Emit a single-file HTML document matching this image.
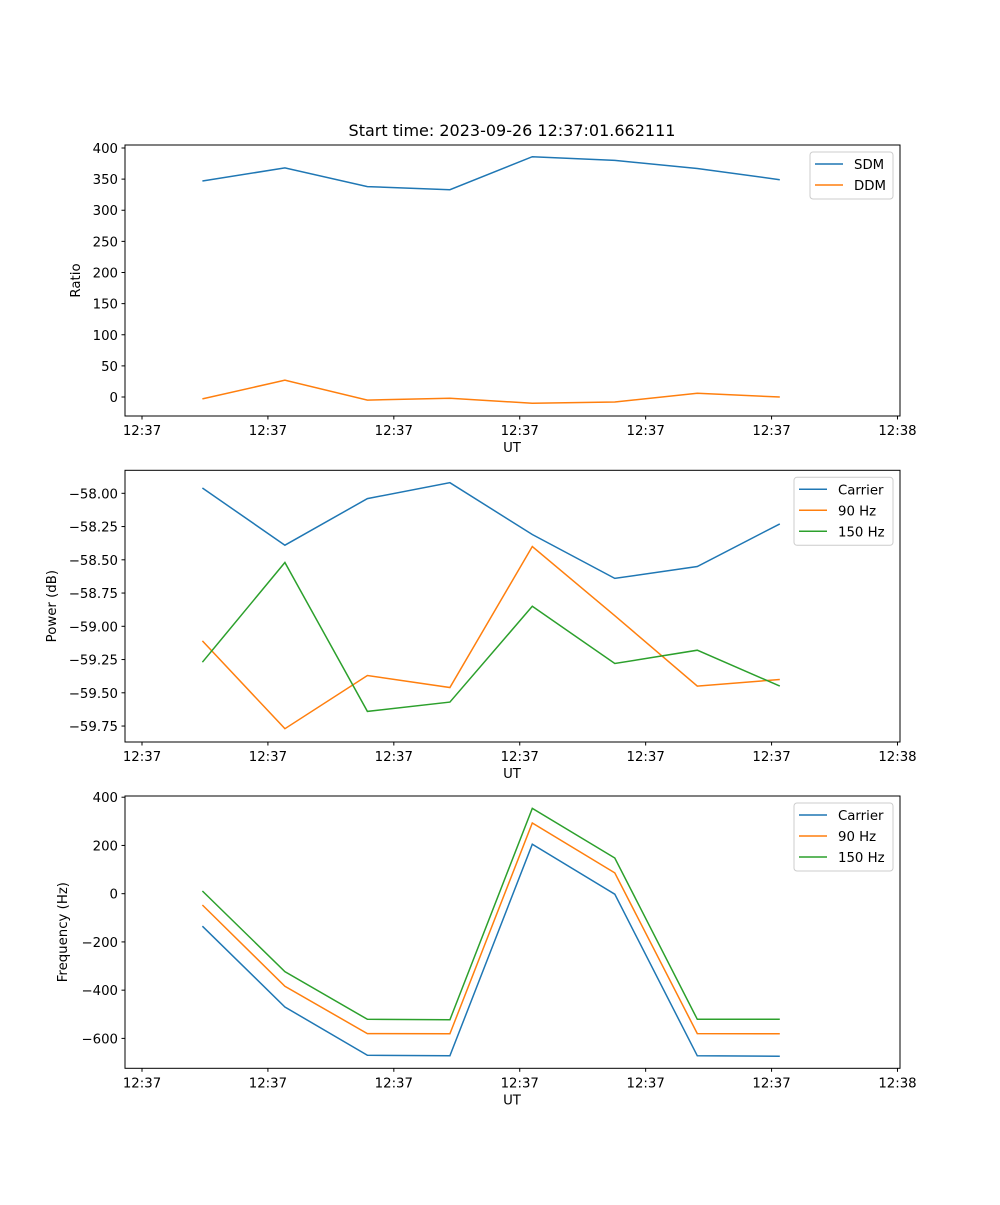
<!DOCTYPE html>
<html><head><meta charset="utf-8"><style>
body{margin:0;background:#fff}
svg text{font-family:"DejaVu Sans","Liberation Sans",sans-serif;font-size:13.3px;fill:#000}
</style></head><body>
<svg id="fig" width="1000" height="1200" xmlns="http://www.w3.org/2000/svg"></svg>
<script>
const times=[4.8,11.35,17.9,24.45,31.0,37.55,44.1,50.65];
const xTickVals=[0,10,20,30,40,50,60];
const xTickLabels=["12:37","12:37","12:37","12:37","12:37","12:37","12:38"];
const sdm=[347,368,338,333,386,380,367,349];
const ddm=[-3,27,-5,-2,-10,-8,6,0];
const ratioTicks=[0,50,100,150,200,250,300,350,400];
const pCarrier=[-57.96,-58.39,-58.04,-57.92,-58.31,-58.64,-58.55,-58.23];
const p90=[-59.11,-59.77,-59.37,-59.46,-58.40,-58.92,-59.45,-59.40];
const p150=[-59.27,-58.52,-59.64,-59.57,-58.85,-59.28,-59.18,-59.45];
const powerTicks=[-58.00,-58.25,-58.50,-58.75,-59.00,-59.25,-59.50,-59.75];
const fCarrier=[-135,-470,-670,-672,205,-2,-672,-674];
const f90=[-47,-384,-580,-581,293,86,-580,-581];
const f150=[11,-323,-521,-523,354,148,-521,-521];
const freqTicks=[-600,-400,-200,0,200,400];
const C=["#1f77b4","#ff7f0e","#2ca02c"];
const NS="http://www.w3.org/2000/svg";
const svg=document.getElementById('fig');
function el(tag,attrs,parent){const e=document.createElementNS(NS,tag);for(const k in attrs)e.setAttribute(k,attrs[k]);(parent||svg).appendChild(e);return e;}
const L=125,R=900,xmin=-1.35,xmax=60.2;
function xs(v){return L+(v-xmin)/(xmax-xmin)*(R-L);}
function panel(name,top,bot,ymin,ymax,yt,fmt,ylabel,series,names,leg){
  const g=el('g',{});
  
  
  const ys=v=>bot-(v-ymin)/(ymax-ymin)*(bot-top);
  series.forEach((s,i)=>{
    const p=el('polyline',{points:s.map((v,j)=>xs(times[j]).toFixed(1)+','+ys(v).toFixed(1)).join(' '),fill:'none',stroke:C[i],'stroke-width':1.5},g);
    
    
  });
  el('rect',{x:L,y:top,width:R-L,height:bot-top,fill:'none',stroke:'#000','stroke-width':1},g);
  xTickVals.forEach((v,i)=>{const x=xs(v);el('line',{x1:x,x2:x,y1:bot,y2:bot+3.5,stroke:'#000'},g);
    const t=el('text',{x:x,y:bot+19,'text-anchor':'middle'},g);t.textContent=xTickLabels[i];
    });
  yt.forEach(v=>{const y=ys(v);el('line',{x1:L-3.5,x2:L,y1:y,y2:y,stroke:'#000'},g);
    const t=el('text',{x:L-7,y:y+5,'text-anchor':'end'},g);t.textContent=fmt(v);
    });
  const xl=el('text',{x:512,y:bot+36,'text-anchor':'middle'},g);xl.textContent='UT';
  
  const yl=el('text',{x:0,y:0,'text-anchor':'middle',transform:`translate(${leg.ylx},${(top+bot)/2}) rotate(-90)`},g);yl.textContent=ylabel;
  
  const lg=el('g',{},g);
  
  el('rect',{x:leg.x,y:top+7,width:leg.w,height:5+names.length*21,rx:3,fill:'#fff','fill-opacity':0.8,stroke:'#ccc'},lg);
  names.forEach((n,i)=>{const y=top+19+i*21;
    el('line',{x1:leg.x+5,x2:leg.x+33,y1:y,y2:y,stroke:C[i],'stroke-width':1.5},lg);
    const t=el('text',{x:leg.x+44,y:y+5},lg);t.textContent=n;
    });
}
const title=el('text',{x:512,y:136,'text-anchor':'middle',style:'font-size:16px'});title.textContent='Start time: 2023-09-26 12:37:01.662111';


panel('ratio',145,416,-30.5,404.8,ratioTicks,v=>String(v),'Ratio',[sdm,ddm],['SDM','DDM'],{x:810,w:83,ylx:80});
panel('power',470.3,742,-59.870,-57.827,powerTicks,v=>'\u2212'+Math.abs(v).toFixed(2),'Power (dB)',[pCarrier,p90,p150],['Carrier','90 Hz','150 Hz'],{x:794,w:99,ylx:56});
panel('frequency',796,1068.3,-724,405,freqTicks,v=>(v<0?'\u2212':'')+Math.abs(v),'Frequency (Hz)',[fCarrier,f90,f150],['Carrier','90 Hz','150 Hz'],{x:794,w:99,ylx:67});
</script>
</body></html>
